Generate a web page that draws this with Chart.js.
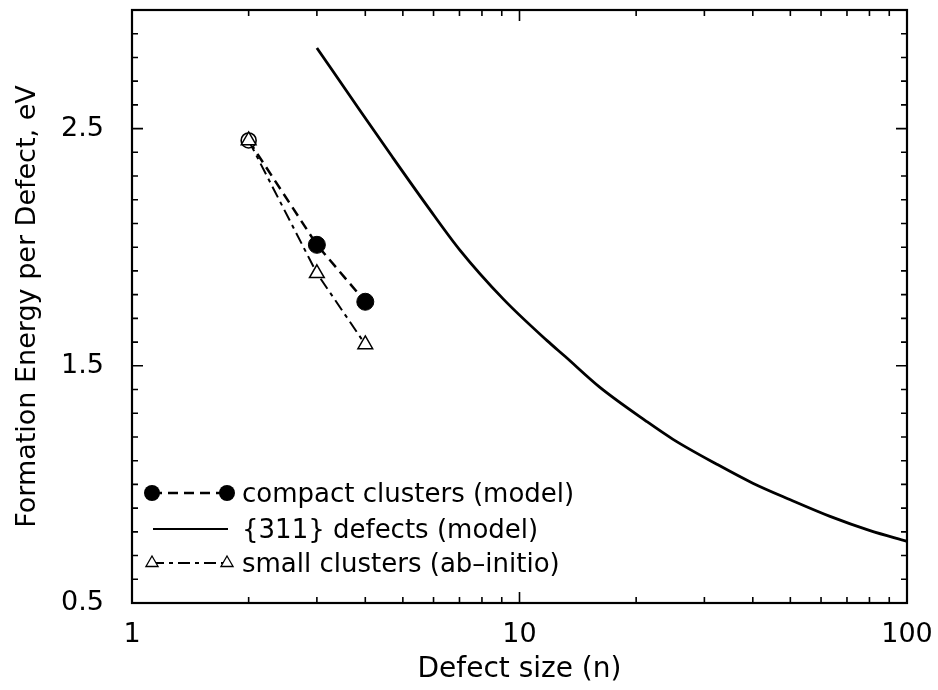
<!DOCTYPE html>
<html><head><meta charset="utf-8">
<script src="https://cdn.jsdelivr.net/npm/chart.js@4.4.1/dist/chart.umd.min.js"></script>
<style>
html,body{margin:0;padding:0;background:#fff;}
#wrap{position:relative;width:938px;height:690px;}
.leg{position:absolute;left:0;width:700px;font-family:"DejaVu Sans";font-size:26px;color:#000;height:30px;line-height:30px;white-space:nowrap;}
.leg canvas{position:absolute;left:140px;top:0;}
.leg span{position:absolute;left:242px;top:0;}
</style></head><body>
<div id="wrap"><canvas id="c" width="938" height="690"></canvas><div id="legend"></div></div>
<script>
// ---- data ----
const nCompact = [2, 3, 4];
const eCompact = [2.45, 2.01, 1.77];
const nSmall = [2, 3, 4];
const eSmall = [2.45, 1.89, 1.59];
const n311 = [3.0, 3.9, 4.7, 5.8, 7.0, 9.1, 11.8, 13.1, 16.1, 21.3, 24.9, 32.3, 40, 50, 63.3, 80.3, 100];
const e311 = [2.84, 2.57, 2.38, 2.17, 1.99, 1.78, 1.605, 1.54, 1.41, 1.265, 1.19, 1.085, 1.005, 0.935, 0.865, 0.805, 0.76];
const xTickLabels = [1, 10, 100];
const yTickLabels = [0.5, 1.5, 2.5];
const seriesNames = ['compact clusters (model)', '{311} defects (model)', 'small clusters (ab\u2013initio)'];
const xTitle = 'Defect size (n)';
const yTitle = 'Formation Energy per Defect, eV';

const FONT = 'DejaVu Sans';
const pts = (xs, ys) => xs.map((x, i) => ({x: x, y: ys[i]}));

const frameTicks = {
  id: 'frameTicks',
  afterDatasetsDraw(chart) {
    const {ctx, chartArea: a, scales: {x, y}} = chart;
    ctx.save();
    ctx.strokeStyle = '#000';
    ctx.lineWidth = 1.6;
    ctx.beginPath();
    for (let d = 1; d <= 100; d *= 10) {
      for (let k = 1; k <= 9; k++) {
        const v = k * d;
        if (v > 100) break;
        const px = x.getPixelForValue(v);
        const len = (k === 1) ? 11 : 6;
        ctx.moveTo(px, a.bottom); ctx.lineTo(px, a.bottom - len);
        ctx.moveTo(px, a.top); ctx.lineTo(px, a.top + len);
      }
    }
    for (let k = 5; k <= 30; k++) {
      const v = k / 10;
      const py = y.getPixelForValue(v);
      const major = yTickLabels.some(t => Math.abs(t - v) < 1e-6);
      const len = major ? 11 : 6;
      ctx.moveTo(a.left, py); ctx.lineTo(a.left + len, py);
      ctx.moveTo(a.right, py); ctx.lineTo(a.right - len, py);
    }
    ctx.stroke();
    ctx.lineWidth = 2.2;
    ctx.strokeRect(a.left, a.top, a.right - a.left, a.bottom - a.top);
    ctx.restore();
  }
};

new Chart(document.getElementById('c'), {
  type: 'scatter',
  data: {
    datasets: [
      {
        label: seriesNames[0],
        data: pts(nCompact, eCompact),
        showLine: true,
        borderColor: '#000',
        borderWidth: 2.5,
        borderDash: [10, 6],
        pointStyle: 'circle',
        pointRadius: [7.5, 8.5, 8.5],
        pointBackgroundColor: ['#fff', '#000', '#000'],
        pointBorderColor: '#000',
        pointBorderWidth: [1.6, 1, 1],
        order: 2
      },
      {
        label: seriesNames[1],
        data: pts(n311, e311),
        showLine: true,
        borderColor: '#000',
        borderWidth: 2.8,
        pointRadius: 0,
        cubicInterpolationMode: 'monotone',
        order: 3
      },
      {
        label: seriesNames[2],
        data: pts(nSmall, eSmall),
        showLine: true,
        borderColor: '#000',
        borderWidth: 2,
        borderDash: [12, 5, 4, 5],
        pointStyle: 'triangle',
        pointRadius: 8.5,
        pointBackgroundColor: '#fff',
        pointBorderColor: '#000',
        pointBorderWidth: 1.5,
        order: 1
      }
    ]
  },
  options: {
    responsive: false,
    devicePixelRatio: 1,
    animation: false,
    layout: {padding: {top: 6, right: 31, bottom: 0, left: 0}},
    plugins: {legend: {display: false}, tooltip: {enabled: false}},
    scales: {
      x: {
        type: 'logarithmic',
        min: 1, max: 100,
        grid: {display: false},
        border: {display: false},
        afterBuildTicks: (s) => { s.ticks = xTickLabels.map(v => ({value: v})); },
        ticks: {
          autoSkip: false, maxRotation: 0, padding: 8, color: '#000',
          font: {family: FONT, size: 27},
          callback: (v) => String(v)
        },
        title: {display: true, text: xTitle, color: '#000', font: {family: FONT, size: 28}, padding: {top: 0, bottom: 3}},
        afterFit: (s) => { s.height = 87; s.paddingLeft = 0; s.paddingRight = 0; }
      },
      y: {
        type: 'linear',
        min: 0.5, max: 3.0,
        grid: {display: false},
        border: {display: false},
        afterBuildTicks: (s) => { s.ticks = yTickLabels.map(v => ({value: v})); },
        ticks: {
          autoSkip: false, padding: 20, color: '#000',
          font: {family: FONT, size: 27},
          callback: (v) => Number(v).toFixed(1)
        },
        title: {display: true, text: yTitle, color: '#000', font: {family: FONT, size: 27}, padding: {top: 12, bottom: 0}},
        afterFit: (s) => { s.width = 132; s.paddingTop = 0; s.paddingBottom = 0; }
      }
    }
  },
  plugins: [frameTicks]
});

// ---- legend (HTML text, small canvases for line samples) ----
const legendRows = [493, 529, 563];
const legendStyles = [
  {dash: [10, 6], width: 2.5, marker: 'circle'},
  {dash: [], width: 2, marker: null},
  {dash: [12, 5, 4, 5], width: 2, marker: 'triangle'}
];
const lg = document.getElementById('legend');
seriesNames.forEach((name, i) => {
  const row = document.createElement('div');
  row.className = 'leg';
  row.style.top = (legendRows[i] - 15) + 'px';
  const cv = document.createElement('canvas');
  cv.width = 100; cv.height = 30;
  const c = cv.getContext('2d');
  const st = legendStyles[i];
  c.strokeStyle = '#000';
  c.lineWidth = st.width;
  c.setLineDash(st.dash);
  c.beginPath();
  c.moveTo(st.marker ? 12 : 13, 15); c.lineTo(st.marker ? 87 : 88, 15);
  c.stroke();
  c.setLineDash([]);
  [12, 87].forEach(cx => {
    if (st.marker === 'circle') {
      c.beginPath(); c.arc(cx, 15, 8, 0, Math.PI * 2); c.fillStyle = '#000'; c.fill();
    } else if (st.marker === 'triangle') {
      const r = 7;
      c.beginPath();
      c.moveTo(cx, 15 - r);
      c.lineTo(cx + r * 0.866, 15 + r * 0.5);
      c.lineTo(cx - r * 0.866, 15 + r * 0.5);
      c.closePath();
      c.fillStyle = '#fff'; c.fill(); c.lineWidth = 1.3; c.stroke();
    }
  });
  row.appendChild(cv);
  const sp = document.createElement('span');
  sp.textContent = name;
  row.appendChild(sp);
  lg.appendChild(row);
});
</script>
</body></html>
